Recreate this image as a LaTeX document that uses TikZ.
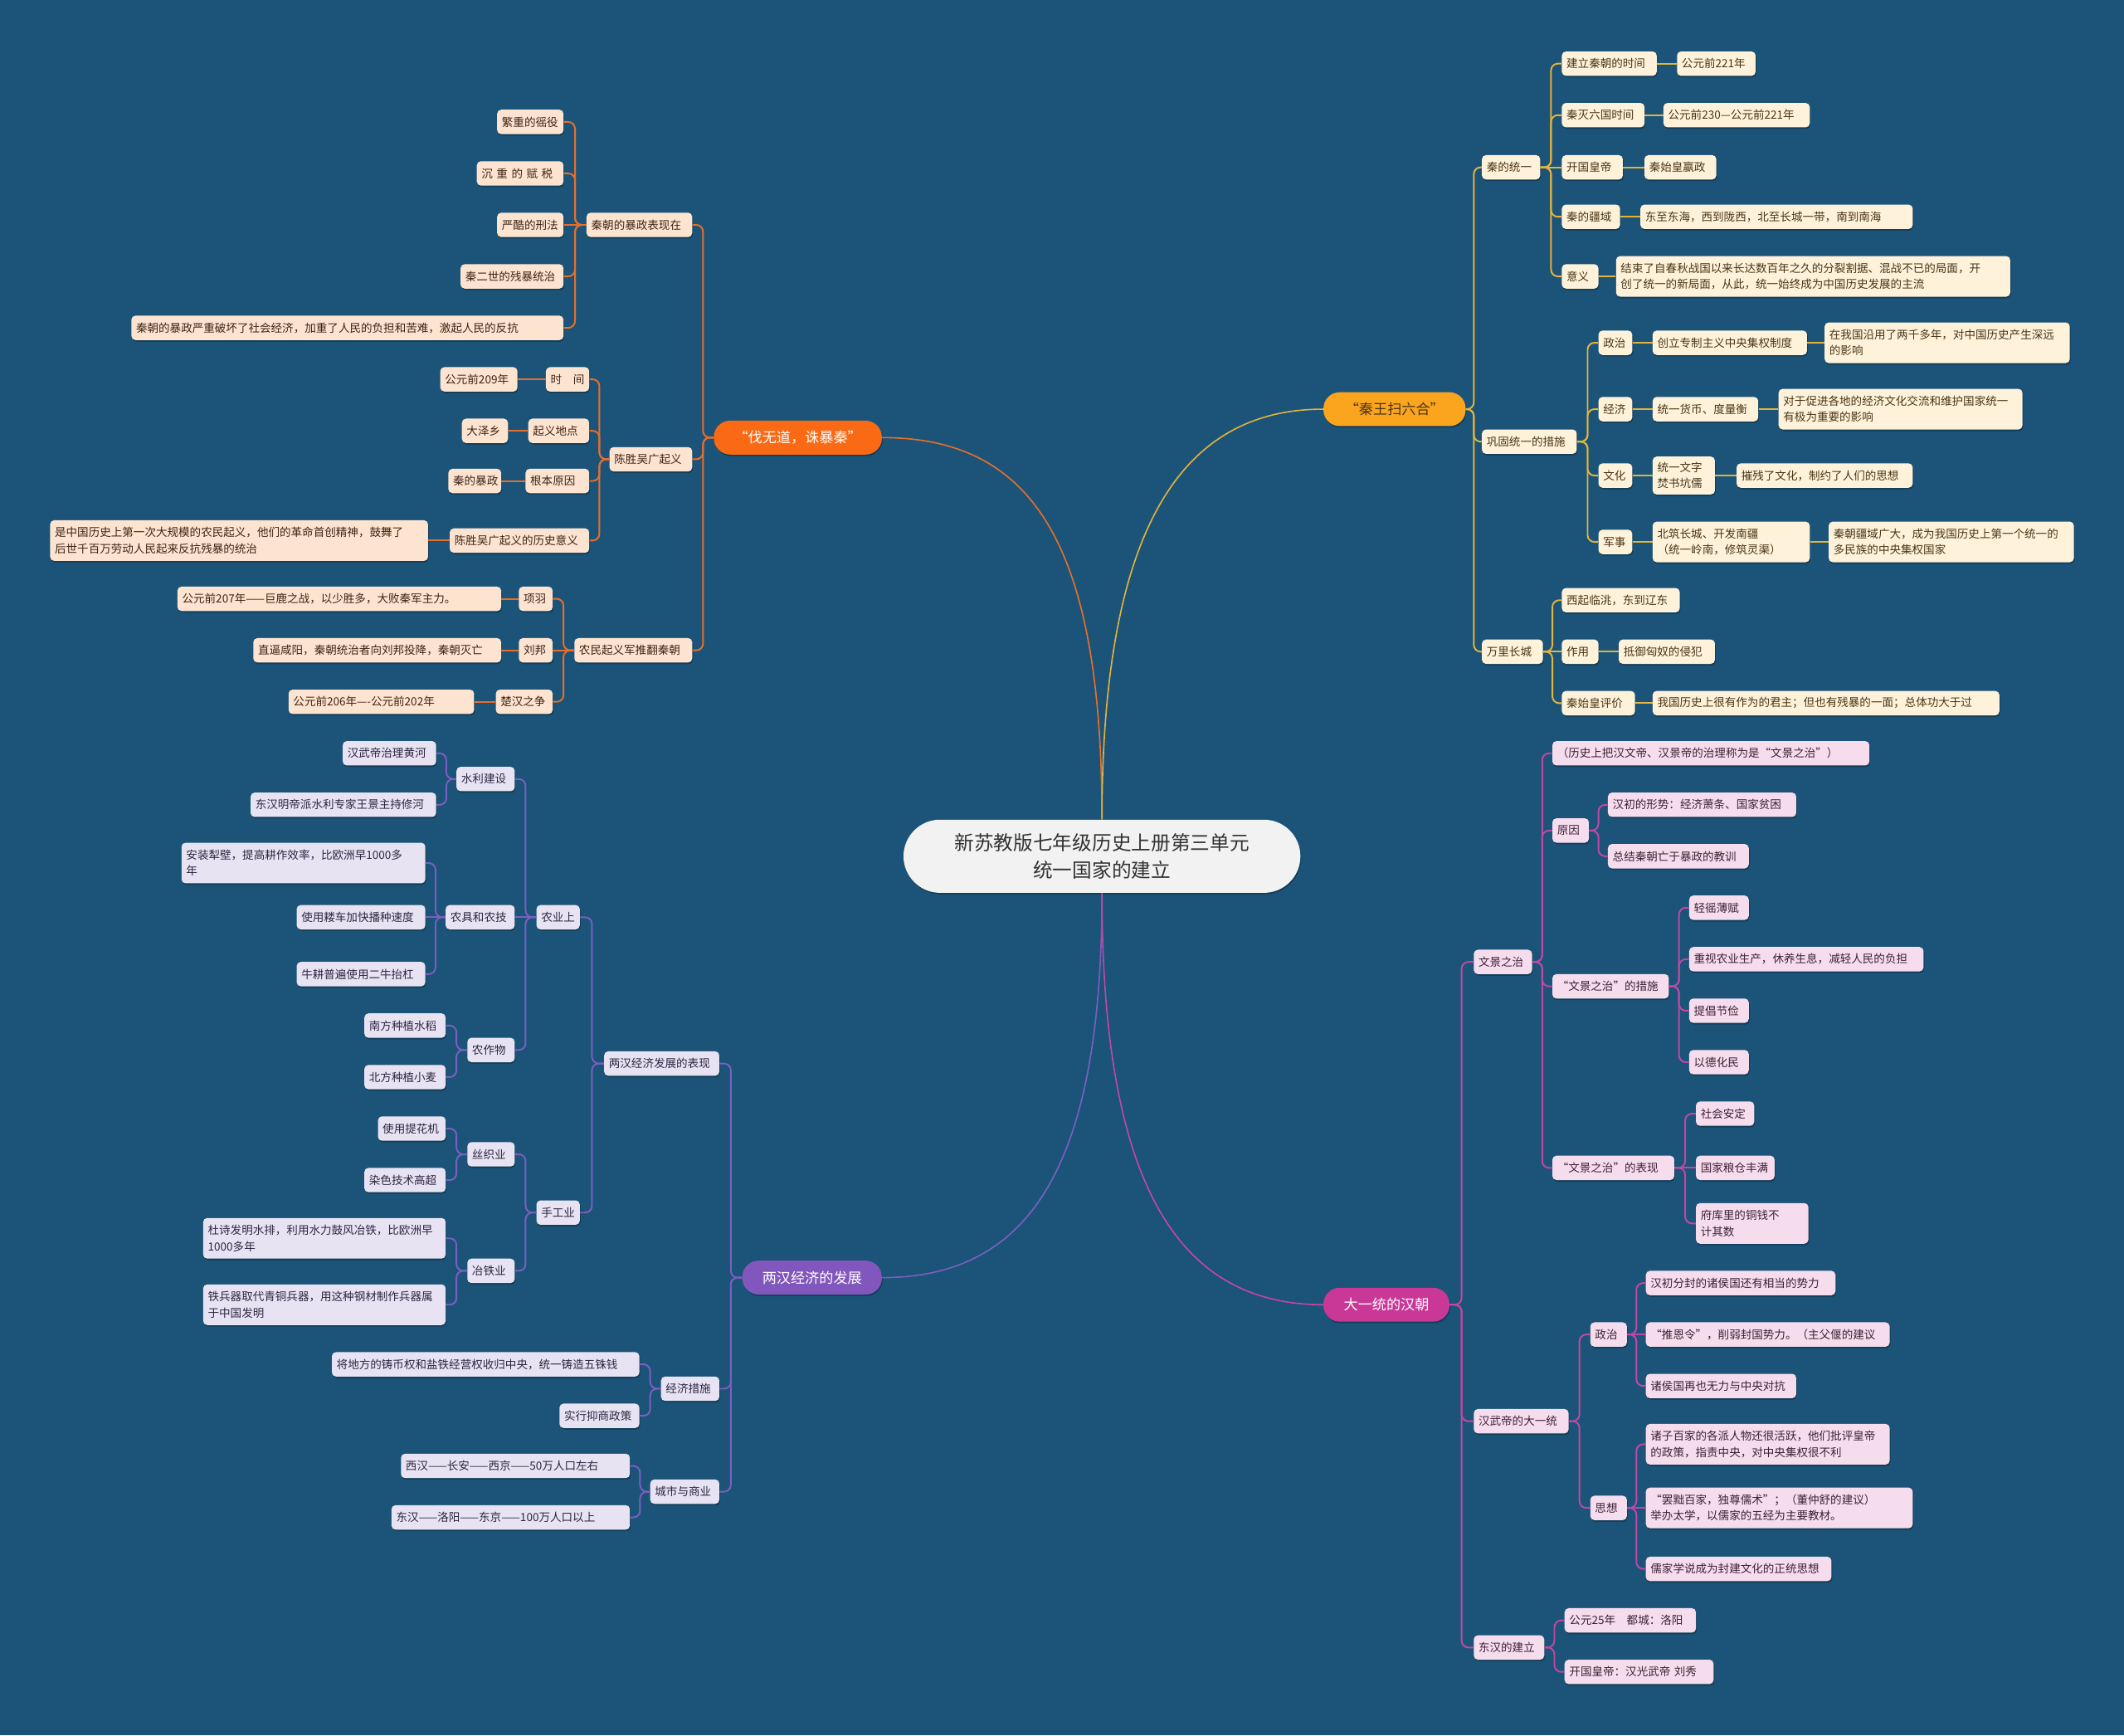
\documentclass[tikz,border=0pt]{standalone}
\usepackage{fontspec}
\setmainfont{Noto Sans CJK SC}
\usetikzlibrary{calc,shadows}
\definecolor{bg}{HTML}{1B5478}
\definecolor{oM}{HTML}{FA6A14}\definecolor{oL}{HTML}{E96E2A}\definecolor{oF}{HTML}{FDE4D1}\definecolor{oT}{HTML}{3F2416}
\definecolor{yM}{HTML}{FBA51E}\definecolor{yL}{HTML}{E3B33C}\definecolor{yF}{HTML}{FEF2DA}\definecolor{yT}{HTML}{4A3516}
\definecolor{pM}{HTML}{8257BD}\definecolor{pL}{HTML}{7A5FC0}\definecolor{pF}{HTML}{E8E3F2}\definecolor{pT}{HTML}{2D2642}
\definecolor{mM}{HTML}{C93897}\definecolor{mL}{HTML}{C247A2}\definecolor{mF}{HTML}{F6DDEE}\definecolor{mT}{HTML}{3E2035}
\definecolor{cF}{HTML}{F2F2F2}\definecolor{cT}{HTML}{333333}
% leaf node with given left/right edges, text left aligned
\newcommand\ND[6]{\pgfmathsetlengthmacro\ndtw{#4-#3-7}%
  \node[#1, text width=\ndtw, minimum width={#4-#3}] (#2) at ({(#3+#4)/2},#5) {#6};}
% pill node (centered text)
\newcommand\PL[6]{\node[#1, minimum width={#4-#3}] (#2) at ({(#3+#4)/2},#5) {#6};}
\newcommand\lnk[3]{\draw[#1] (#2.west) -- ($(#2.west)!.5!(#2.west-|#3.east)$) |- (#3.east);}
\newcommand\rnk[3]{\draw[#1] (#2.east) -- ($(#2.east)!.5!(#2.east-|#3.west)$) |- (#3.west);}
\newcommand\slnk[3]{\draw[#1] (#2.west) -- (#3.east);}
\newcommand\srnk[3]{\draw[#1] (#2.east) -- (#3.west);}
\tikzset{
 shd/.style={drop shadow={shadow xshift=0.6pt, shadow yshift=-1.2pt, opacity=0.25, fill=black}},
 leaf/.style={rounded corners=3pt, inner xsep=3.5pt, inner ysep=2pt, minimum height=18pt, align=left,
   font=\fontsize{8.3}{11.8}\selectfont, shd},
 o/.style={leaf, fill=oF, text=oT},
 yy/.style={leaf, fill=yF, text=yT},
 pp/.style={leaf, fill=pF, text=pT},
 mm/.style={leaf, fill=mF, text=mT},
 pill/.style={rounded corners=12pt, minimum height=25pt, inner xsep=6pt, font=\fontsize{10.5}{12}\selectfont, shd},
 oLn/.style={draw=oL, line width=1.2pt, rounded corners=5pt},
 yLn/.style={draw=yL, line width=1.2pt, rounded corners=5pt},
 pLn/.style={draw=pL, line width=1.2pt, rounded corners=5pt},
 mLn/.style={draw=mL, line width=1.2pt, rounded corners=5pt},
}
\begin{document}
\begin{tikzpicture}[x=1pt,y=-1pt]
\fill[bg] (0,0) rectangle (1568,1281);
\useasboundingbox (0,0) rectangle (1568,1281);

% center
\node[fill=cF, text=cT, rounded corners=27pt, minimum width=293pt, minimum height=54pt, align=center,
  font=\fontsize{14.5}{20}\selectfont, shd] (c) at (813.5,632) {新苏教版七年级历史上册第三单元\\统一国家的建立};

% main branches
\PL{pill, fill=oM, text=white}{b1}{527}{651}{323}{“伐无道，诛暴秦”}
\PL{pill, fill=yM, text=yT}{b2}{977}{1082}{302}{“秦王扫六合”}
\PL{pill, fill=pM, text=white}{b3}{548}{651}{943}{两汉经济的发展}
\PL{pill, fill=mM, text=white}{b4}{977}{1070}{963}{大一统的汉朝}

\draw[oL, line width=1pt] (c.north) .. controls +(0,-205) and +(110,0) .. (b1.east);
\draw[yL, line width=1pt] (c.north) .. controls +(0,-205) and +(-110,0) .. (b2.west);
\draw[pL, line width=1pt] (c.south) .. controls +(0,200) and +(110,0) .. (b3.east);
\draw[mL, line width=1pt] (c.south) .. controls +(0,210) and +(-110,0) .. (b4.west);

% ---------------- orange branch
\ND{o}{a1}{433}{511}{166}{秦朝的暴政表现在}
\ND{o}{a11}{367}{416}{90}{繁重的徭役}
\ND{o}{a12}{352}{416}{128}{沉 重 的 赋 税}
\ND{o}{a13}{367}{416}{166}{严酷的刑法}
\ND{o}{a14}{340}{416}{204}{秦二世的残暴统治}
\ND{o}{a15}{97}{416}{242}{秦朝的暴政严重破坏了社会经济，加重了人民的负担和苦难，激起人民的反抗}
\ND{o}{a2}{450}{511}{339}{陈胜吴广起义}
\ND{o}{a21}{403}{435}{280}{时　间}
\ND{o}{a211}{325}{382}{280}{公元前209年}
\ND{o}{a22}{390}{435}{318}{起义地点}
\ND{o}{a221}{341}{375}{318}{大泽乡}
\ND{o}{a23}{388}{435}{355}{根本原因}
\ND{o}{a231}{331}{370}{355}{秦的暴政}
\ND{o}{a24}{332}{435}{399}{陈胜吴广起义的历史意义}
\ND{o, minimum height=30pt}{a241}{37}{316}{399}{是中国历史上第一次大规模的农民起义，他们的革命首创精神，鼓舞了\\后世千百万劳动人民起来反抗残暴的统治}
\ND{o}{a3}{424}{511}{480}{农民起义军推翻秦朝}
\ND{o}{a31}{383}{408}{442}{项羽}
\ND{o}{a311}{131}{370}{442}{公元前207年——巨鹿之战，以少胜多，大败秦军主力。}
\ND{o}{a32}{383}{408}{480}{刘邦}
\ND{o}{a321}{187}{370}{480}{直逼咸阳，秦朝统治者向刘邦投降，秦朝灭亡}
\ND{o}{a33}{366}{408}{518}{楚汉之争}
\ND{o}{a331}{213}{350}{518}{公元前206年----公元前202年}

\foreach \k in {a1,a2,a3} {\lnk{oLn}{b1}{\k}}
\foreach \k in {a11,a12,a14,a15} {\lnk{oLn}{a1}{\k}}
\slnk{oLn}{a1}{a13}
\foreach \k in {a21,a22,a23,a24} {\lnk{oLn}{a2}{\k}}
\foreach \k in {a31,a33} {\lnk{oLn}{a3}{\k}}
\slnk{oLn}{a3}{a32}
\slnk{oLn}{a21}{a211}\slnk{oLn}{a22}{a221}\slnk{oLn}{a23}{a231}\slnk{oLn}{a24}{a241}
\slnk{oLn}{a31}{a311}\slnk{oLn}{a32}{a321}\slnk{oLn}{a33}{a331}

% ---------------- yellow branch
\ND{yy}{q1}{1094}{1137}{123.5}{秦的统一}
\ND{yy}{q11}{1153}{1223}{47}{建立秦朝的时间}
\ND{yy}{q111}{1238}{1296}{47}{公元前221年}
\ND{yy}{q12}{1153}{1214}{85}{秦灭六国时间}
\ND{yy}{q121}{1228}{1336}{85}{公元前230—公元前221年}
\ND{yy}{q13}{1153}{1198}{123.5}{开国皇帝}
\ND{yy}{q131}{1214}{1267}{123.5}{秦始皇嬴政}
\ND{yy}{q14}{1153}{1196}{160}{秦的疆域}
\ND{yy}{q141}{1211}{1412}{160}{东至东海，西到陇西，北至长城一带，南到南海}
\ND{yy}{q15}{1153}{1180}{204}{意义}
\ND{yy, minimum height=30pt}{q151}{1193}{1484}{204}{结束了自春秋战国以来长达数百年之久的分裂割据、混战不已的局面，开\\创了统一的新局面，从此，统一始终成为中国历史发展的主流}
\ND{yy}{q2}{1094}{1164}{326}{巩固统一的措施}
\ND{yy}{q21}{1180}{1205}{253}{政治}
\ND{yy}{q211}{1220}{1334}{253}{创立专制主义中央集权制度}
\ND{yy, minimum height=30pt}{q212}{1347}{1528}{253}{在我国沿用了两千多年，对中国历史产生深远\\的影响}
\ND{yy}{q22}{1180}{1205}{302}{经济}
\ND{yy}{q221}{1220}{1298}{302}{统一货币、度量衡}
\ND{yy, minimum height=30pt}{q222}{1313}{1493}{302}{对于促进各地的经济文化交流和维护国家统一\\有极为重要的影响}
\ND{yy}{q23}{1180}{1205}{351}{文化}
\ND{yy, minimum height=28pt}{q231}{1220}{1266}{351}{统一文字\\焚书坑儒}
\ND{yy}{q232}{1282}{1412}{351}{摧残了文化，制约了人们的思想}
\ND{yy}{q24}{1180}{1205}{400}{军事}
\ND{yy, minimum height=30pt}{q241}{1220}{1336}{400}{北筑长城、开发南疆\\（统一岭南，修筑灵渠）}
\ND{yy, minimum height=30pt}{q242}{1350}{1531}{400}{秦朝疆域广大，成为我国历史上第一个统一的\\多民族的中央集权国家}
\ND{yy}{q3}{1094}{1139}{481}{万里长城}
\ND{yy}{q31}{1153}{1240}{443}{西起临洮，东到辽东}
\ND{yy}{q32}{1153}{1180}{481}{作用}
\ND{yy}{q321}{1195}{1266}{481}{抵御匈奴的侵犯}
\ND{yy}{q33}{1153}{1207}{519}{秦始皇评价}
\ND{yy}{q331}{1220}{1476}{519}{我国历史上很有作为的君主；但也有残暴的一面；总体功大于过}

\foreach \k in {q1,q2,q3} {\rnk{yLn}{b2}{\k}}
\foreach \k in {q11,q12,q14,q15} {\rnk{yLn}{q1}{\k}}
\srnk{yLn}{q1}{q13}
\foreach \k in {q21,q22,q23,q24} {\rnk{yLn}{q2}{\k}}
\foreach \k in {q31,q33} {\rnk{yLn}{q3}{\k}}
\srnk{yLn}{q3}{q32}
\srnk{yLn}{q11}{q111}\srnk{yLn}{q12}{q121}\srnk{yLn}{q13}{q131}\srnk{yLn}{q14}{q141}\srnk{yLn}{q15}{q151}
\srnk{yLn}{q21}{q211}\srnk{yLn}{q211}{q212}\srnk{yLn}{q22}{q221}\srnk{yLn}{q221}{q222}
\srnk{yLn}{q23}{q231}\srnk{yLn}{q231}{q232}\srnk{yLn}{q24}{q241}\srnk{yLn}{q241}{q242}
\srnk{yLn}{q32}{q321}\srnk{yLn}{q33}{q331}

% ---------------- purple branch
\ND{pp}{h1}{446}{531}{785}{两汉经济发展的表现}
\ND{pp}{h11}{396}{428}{677}{农业上}
\ND{pp}{h111}{337}{380}{575}{水利建设}
\ND{pp}{h1111}{253}{322}{556}{汉武帝治理黄河}
\ND{pp}{h1112}{185}{322}{594}{东汉明帝派水利专家王景主持修河}
\ND{pp}{h112}{329}{380}{677}{农具和农技}
\ND{pp, minimum height=30pt}{h1121}{134}{314}{637}{安装犁壁，提高耕作效率，比欧洲早1000多\\年}
\ND{pp}{h1122}{219}{314}{677}{使用耧车加快播种速度}
\ND{pp}{h1123}{219}{314}{719}{牛耕普遍使用二牛抬杠}
\ND{pp}{h113}{345}{380}{775}{农作物}
\ND{pp}{h1131}{269}{329}{757}{南方种植水稻}
\ND{pp}{h1132}{269}{329}{795}{北方种植小麦}
\ND{pp}{h12}{396}{428}{895}{手工业}
\ND{pp}{h121}{345}{380}{852}{丝织业}
\ND{pp}{h1211}{279}{329}{833}{使用提花机}
\ND{pp}{h1212}{269}{329}{871}{染色技术高超}
\ND{pp}{h122}{345}{380}{938}{冶铁业}
\ND{pp, minimum height=30pt}{h1221}{150}{329}{914}{杜诗发明水排，利用水力鼓风冶铁，比欧洲早\\1000多年}
\ND{pp, minimum height=30pt}{h1222}{150}{329}{963}{铁兵器取代青铜兵器，用这种钢材制作兵器属\\于中国发明}
\ND{pp}{h2}{488}{531}{1025}{经济措施}
\ND{pp}{h21}{245}{472}{1007}{将地方的铸币权和盐铁经营权收归中央，统一铸造五铢钱}
\ND{pp}{h22}{413}{472}{1045}{实行抑商政策}
\ND{pp}{h3}{480}{531}{1101}{城市与商业}
\ND{pp}{h31}{296}{465}{1082}{西汉——长安——西京——50万人口左右}
\ND{pp}{h32}{289}{465}{1120}{东汉——洛阳——东京——100万人口以上}

\foreach \k in {h1,h2,h3} {\lnk{pLn}{b3}{\k}}
\foreach \k in {h11,h12} {\lnk{pLn}{h1}{\k}}
\foreach \k in {h111,h113} {\lnk{pLn}{h11}{\k}}
\slnk{pLn}{h11}{h112}
\foreach \k in {h1111,h1112} {\lnk{pLn}{h111}{\k}}
\foreach \k in {h1121,h1123} {\lnk{pLn}{h112}{\k}}
\slnk{pLn}{h112}{h1122}
\foreach \k in {h1131,h1132} {\lnk{pLn}{h113}{\k}}
\foreach \k in {h121,h122} {\lnk{pLn}{h12}{\k}}
\foreach \k in {h1211,h1212} {\lnk{pLn}{h121}{\k}}
\foreach \k in {h1221,h1222} {\lnk{pLn}{h122}{\k}}
\foreach \k in {h21,h22} {\lnk{pLn}{h2}{\k}}
\foreach \k in {h31,h32} {\lnk{pLn}{h3}{\k}}

% ---------------- magenta branch
\ND{mm}{w1}{1088}{1131}{710}{文景之治}
\ND{mm}{w11}{1146}{1380}{556}{（历史上把汉文帝、汉景帝的治理称为是“文景之治”）}
\ND{mm}{w12}{1146}{1173}{613}{原因}
\ND{mm}{w121}{1187}{1326}{594}{汉初的形势：经济萧条、国家贫困}
\ND{mm}{w122}{1187}{1291}{632}{总结秦朝亡于暴政的教训}
\ND{mm}{w13}{1146}{1232}{728}{“文景之治”的措施}
\ND{mm}{w131}{1247}{1291}{670}{轻徭薄赋}
\ND{mm}{w132}{1247}{1420}{708}{重视农业生产，休养生息，减轻人民的负担}
\ND{mm}{w133}{1247}{1291}{746}{提倡节俭}
\ND{mm}{w134}{1247}{1291}{784}{以德化民}
\ND{mm}{w14}{1146}{1236}{862}{“文景之治”的表现}
\ND{mm}{w141}{1252}{1295}{822}{社会安定}
\ND{mm}{w142}{1252}{1310}{862}{国家粮仓丰满}
\ND{mm, minimum height=30pt}{w143}{1252}{1335}{903}{府库里的铜钱不\\计其数}
\ND{mm}{w2}{1088}{1158}{1049}{汉武帝的大一统}
\ND{mm}{w21}{1174}{1201}{985}{政治}
\ND{mm}{w211}{1215}{1355}{947}{汉初分封的诸侯国还有相当的势力}
\ND{mm}{w212}{1215}{1395}{985}{“推恩令”，削弱封国势力。（主父偃的建议}
\ND{mm}{w213}{1215}{1326}{1023}{诸侯国再也无力与中央对抗}
\ND{mm}{w22}{1174}{1201}{1113}{思想}
\ND{mm, minimum height=30pt}{w221}{1215}{1395}{1066}{诸子百家的各派人物还很活跃，他们批评皇帝\\的政策，指责中央，对中央集权很不利}
\ND{mm, minimum height=30pt}{w222}{1215}{1412}{1113}{“罢黜百家，独尊儒术”；（董仲舒的建议）\\举办太学，以儒家的五经为主要教材。}
\ND{mm}{w223}{1215}{1352}{1158}{儒家学说成为封建文化的正统思想}
\ND{mm}{w3}{1088}{1140}{1216}{东汉的建立}
\ND{mm}{w31}{1155}{1252}{1196}{公元25年　都城：洛阳}
\ND{mm}{w32}{1155}{1265}{1234}{开国皇帝：汉光武帝 刘秀}

\foreach \k in {w1,w2,w3} {\rnk{mLn}{b4}{\k}}
\foreach \k in {w11,w12,w13,w14} {\rnk{mLn}{w1}{\k}}
\foreach \k in {w121,w122} {\rnk{mLn}{w12}{\k}}
\foreach \k in {w131,w132,w133,w134} {\rnk{mLn}{w13}{\k}}
\foreach \k in {w141,w143} {\rnk{mLn}{w14}{\k}}
\srnk{mLn}{w14}{w142}
\foreach \k in {w21,w22} {\rnk{mLn}{w2}{\k}}
\foreach \k in {w211,w213} {\rnk{mLn}{w21}{\k}}
\srnk{mLn}{w21}{w212}
\foreach \k in {w221,w223} {\rnk{mLn}{w22}{\k}}
\srnk{mLn}{w22}{w222}
\foreach \k in {w31,w32} {\rnk{mLn}{w3}{\k}}
\end{tikzpicture}
\end{document}
